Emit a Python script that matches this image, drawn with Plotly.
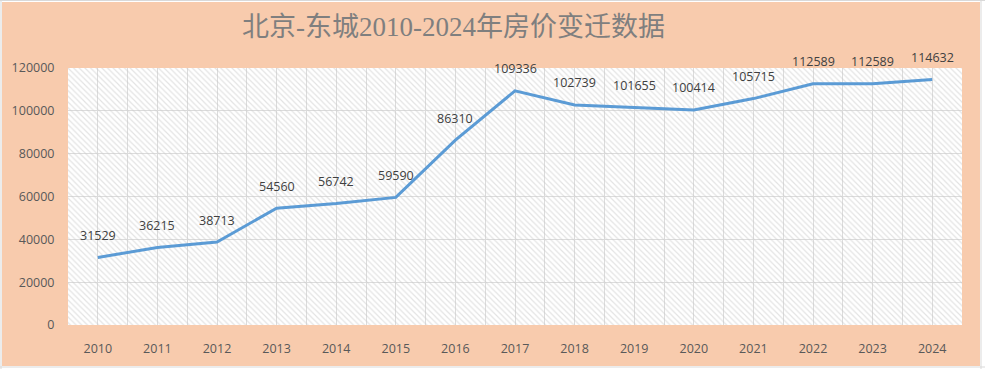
import plotly.graph_objects as go

years = [2010, 2011, 2012, 2013, 2014, 2015, 2016, 2017, 2018, 2019, 2020, 2021, 2022, 2023, 2024]
prices = [31529, 36215, 38713, 54560, 56742, 59590, 86310, 109336, 102739, 101655, 100414, 105715, 112589, 112589, 114632]
y_ticks = [0, 20000, 40000, 60000, 80000, 100000, 120000]
title_text = "北京-东城2010-2024年房价变迁数据"

W, H = 985, 369
L, R, T, B = 68, 962, 68, 325
pw, ph = R - L, B - T

def px_x(p):
    return (p - L) / pw

def px_y(p):
    return (B - p) / ph

fig = go.Figure()

# hatched plot background (decorative)
fig.add_trace(go.Bar(
    x=[(years[0] + years[-1]) / 2], y=[y_ticks[-1]], width=[len(years)],
    marker=dict(color="rgba(0,0,0,0)", line=dict(width=0),
                pattern=dict(shape="\\", fgcolor="#c8c8c8", bgcolor="rgba(0,0,0,0)", size=4, solidity=0.3)),
    hoverinfo="skip", showlegend=False,
))

fig.add_trace(go.Scatter(
    x=years, y=prices, mode="lines",
    line=dict(color="#5B9BD5", width=3),
    showlegend=False, cliponaxis=False, hoverinfo="skip",
))

for xv, yv in zip(years, prices):
    fig.add_annotation(x=xv, y=yv, text=str(yv), showarrow=False, yshift=22,
                       font=dict(family="Open Sans, DejaVu Sans", size=12.5, color="#404040"))

tickvals, ticktext = [], []
for yv in years:
    tickvals.append(yv - 0.5); ticktext.append("")
    tickvals.append(yv); ticktext.append(str(yv))
tickvals.append(years[-1] + 0.5); ticktext.append("")

# spreadsheet grid hints outside chart
for xp in [1, 981]:
    fig.add_shape(type="line", xref="paper", yref="paper", layer="below",
                  x0=px_x(xp), x1=px_x(xp), y0=px_y(H), y1=px_y(0),
                  line=dict(color="#d9d9d9", width=1))
fig.add_shape(type="line", xref="paper", yref="paper", layer="below",
              x0=px_x(0), x1=px_x(W), y0=px_y(0.5), y1=px_y(0.5),
              line=dict(color="#d9d9d9", width=1))
fig.add_shape(type="line", xref="paper", yref="paper", layer="below",
              x0=px_x(0), x1=px_x(W), y0=px_y(367), y1=px_y(367),
              line=dict(color="#d9d9d9", width=1))

# peach chart-area background
fig.add_shape(type="rect", xref="paper", yref="paper", layer="below",
              x0=px_x(2), x1=px_x(980), y0=px_y(366), y1=px_y(2),
              fillcolor="#F8CBAD", line=dict(width=0))
# white plot area
fig.add_shape(type="rect", xref="paper", yref="paper", layer="below",
              x0=0, x1=1, y0=0, y1=1, fillcolor="white", line=dict(width=0))

fig.add_annotation(xref="paper", yref="paper", x=px_x(453), y=px_y(27), text=title_text,
                   showarrow=False, xanchor="center", yanchor="middle",
                   font=dict(family="Liberation Serif, Noto Sans CJK SC", size=27, color="#7F7F7F"))

fig.update_layout(
    width=W, height=H,
    margin=dict(l=L, r=W - R, t=T, b=H - B),
    paper_bgcolor="white", plot_bgcolor="white",
    bargap=0,
    xaxis=dict(range=[years[0] - 0.5, years[-1] + 0.5], tickmode="array",
               tickvals=tickvals, ticktext=ticktext, showgrid=True, gridcolor="#dcdcdc",
               gridwidth=1, zeroline=False, showline=False, ticks="outside", ticklen=12,
               tickcolor="rgba(0,0,0,0)",
               tickfont=dict(family="Open Sans, DejaVu Sans", size=12.5, color="#595959"),
               fixedrange=True),
    yaxis=dict(range=[0, y_ticks[-1]], tickmode="array", tickvals=y_ticks,
               ticktext=[str(v) for v in y_ticks], showgrid=True, gridcolor="#dcdcdc",
               zeroline=False, showline=False, ticks="outside", ticklen=10,
               tickcolor="rgba(0,0,0,0)",
               tickfont=dict(family="Open Sans, DejaVu Sans", size=12.5, color="#595959"),
               fixedrange=True),
)

fig.write_html("out.html", post_script="document.body.style.margin='0';",
               config={"displayModeBar": False})
